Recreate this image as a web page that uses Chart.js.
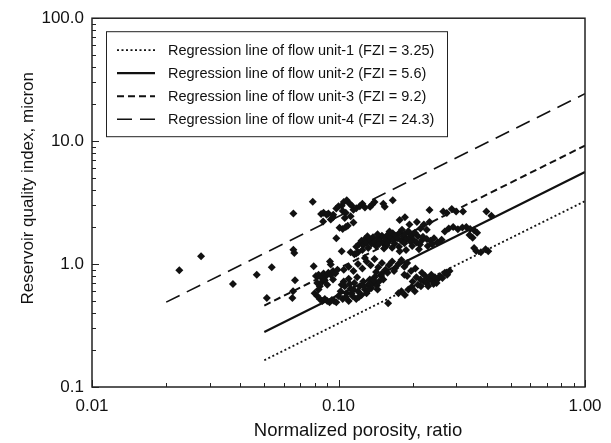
<!DOCTYPE html>
<html>
<head>
<meta charset="utf-8">
<script src="https://cdn.jsdelivr.net/npm/chart.js@4.4.1/dist/chart.umd.min.js"></script>
<style>
  html, body { margin: 0; padding: 0; background: #fff; }
  #wrap { width: 611px; height: 443px; position: relative; }
</style>
</head>
<body>
<div id="wrap"><canvas id="rqi"></canvas></div>
<script>
// axis ticks
const xMajor = [0.01, 0.1, 1];
const yMajor = [0.1, 1, 10, 100];
const xMinor = [0.02, 0.03, 0.04, 0.05, 0.06, 0.07, 0.08, 0.09, 0.2, 0.3, 0.4, 0.5, 0.6, 0.7, 0.8, 0.9];
const yMinor = [0.2, 0.3, 0.4, 0.5, 0.6, 0.7, 0.8, 0.9, 2, 3, 4, 5, 6, 7, 8, 9, 20, 30, 40, 50, 60, 70, 80, 90];

const xTitle = 'Normalized porosity, ratio';
const yTitle = 'Reservoir quality index, micron';

// regression lines (end points)
const unit1X = [0.05, 1.0], unit1Y = [0.165, 3.25];
const unit2X = [0.05, 1.0], unit2Y = [0.28, 5.6];
const unit3X = [0.05, 1.0], unit3Y = [0.46, 9.2];
const unit4X = [0.02, 1.0], unit4Y = [0.49, 24.3];

const lineLabels = [
    'Regression line of flow unit-1 (FZI = 3.25)',
    'Regression line of flow unit-2 (FZI = 5.6)',
    'Regression line of flow unit-3 (FZI = 9.2)',
    'Regression line of flow unit-4 (FZI = 24.3)'
];

// core samples [normalized porosity, RQI]
const coreSamples = [
    // scattered low porosity
    [0.0226,0.89],[0.0277,1.16],[0.0373,0.69],[0.0466,0.82],[0.0512,0.53],[0.0536,0.94],
    [0.0656,2.58],[0.0656,1.31],[0.0662,1.23],[0.0654,0.60],[0.0650,0.53],[0.0666,0.74],
    // upper group near unit-4
    [0.0786,3.21],[0.0850,2.55],[0.0870,2.62],[0.0895,2.52],[0.0910,2.58],[0.0952,2.52],[0.0866,2.22],
    [0.0980,2.83],[0.1000,2.95],[0.1030,2.98],[0.1050,3.20],[0.1080,3.30],[0.1110,3.10],[0.1130,3.00],
    [0.1150,2.76],[0.1180,2.85],[0.1220,2.95],[0.1040,2.70],[0.1070,2.62],[0.1060,2.37],[0.1150,2.18],
    [0.1010,1.97],[0.1040,1.93],[0.1070,2.00],[0.1090,2.05],[0.0980,1.62],[0.1030,1.27],[0.1344,2.93],
    [0.1370,3.05],[0.1400,3.20],[0.1520,3.10],[0.1540,2.93],[0.1660,3.30],[0.1280,2.88],[0.1250,3.10],
    [0.0950,2.40],[0.0930,2.30],[0.1120,2.45],[0.1770,2.28],[0.1860,2.40],[0.1940,2.10],[0.2080,2.20],
    // middle band
    [0.118,1.38],[0.121,1.45],[0.124,1.55],[0.126,1.42],[0.128,1.60],[0.130,1.50],[0.132,1.35],
    [0.134,1.58],[0.136,1.46],[0.138,1.65],[0.140,1.52],[0.142,1.40],[0.145,1.62],[0.147,1.55],
    [0.150,1.70],[0.152,1.48],[0.155,1.60],[0.158,1.72],[0.160,1.52],[0.163,1.65],[0.166,1.78],
    [0.168,1.58],[0.171,1.70],[0.174,1.62],[0.177,1.80],[0.180,1.55],[0.183,1.68],[0.186,1.75],
    [0.189,1.60],[0.192,1.85],[0.195,1.66],[0.198,1.72],[0.201,1.58],[0.204,1.80],[0.207,1.50],
    [0.210,1.68],[0.214,1.44],[0.218,1.56],[0.146,1.45],[0.157,1.42],[0.169,1.47],[0.185,1.48],
    [0.196,1.52],[0.176,1.38],[0.188,1.30],[0.177,1.27],[0.125,1.30],[0.120,1.25],[0.112,1.25],
    [0.116,1.20],[0.131,1.68],[0.144,1.75],[0.161,1.84],[0.153,1.34],[0.165,1.36],[0.199,1.40],
    [0.212,1.32],[0.181,1.90],
    // right side
    [0.234,2.75],[0.266,2.68],[0.275,2.60],[0.288,2.80],[0.300,2.68],[0.320,2.68],[0.398,2.68],
    [0.417,2.47],[0.215,1.95],[0.222,2.10],[0.228,1.90],[0.234,2.20],[0.270,1.84],[0.280,1.95],
    [0.292,2.00],[0.305,1.92],[0.318,1.98],[0.330,2.00],[0.342,1.93],[0.355,1.88],[0.365,1.80],
    [0.340,1.72],[0.350,1.64],[0.220,1.67],[0.228,1.60],[0.236,1.55],[0.244,1.62],[0.252,1.50],
    [0.262,1.58],[0.240,1.45],[0.230,1.40],[0.355,1.35],[0.362,1.28],[0.378,1.25],[0.405,1.27],
    [0.395,1.32],
    // lower group near unit-2
    [0.080,0.58],[0.082,0.55],[0.084,0.52],[0.086,0.50],[0.088,0.52],[0.090,0.50],[0.092,0.49],
    [0.094,0.51],[0.096,0.50],[0.098,0.49],[0.081,0.80],[0.083,0.82],[0.085,0.78],[0.087,0.84],
    [0.089,0.80],[0.091,0.85],[0.093,0.82],[0.095,0.88],[0.097,0.84],[0.099,0.90],[0.082,0.70],
    [0.084,0.66],[0.086,0.72],[0.083,0.62],[0.0923,1.05],[0.0930,0.99],[0.0793,0.96],[0.088,0.74],
    [0.090,0.68],[0.095,0.75],
    [0.100,0.55],[0.102,0.60],[0.104,0.52],[0.106,0.66],[0.108,0.58],[0.110,0.50],[0.112,0.63],
    [0.114,0.55],[0.116,0.70],[0.118,0.52],[0.120,0.60],[0.122,0.66],[0.124,0.56],[0.126,0.72],
    [0.128,0.62],[0.130,0.58],[0.132,0.68],[0.134,0.75],[0.136,0.64],[0.138,0.70],[0.140,0.78],
    [0.143,0.67],[0.146,0.72],[0.149,0.80],[0.152,0.75],[0.105,0.72],[0.110,0.76],[0.115,0.62],
    [0.103,0.68],[0.119,0.78],[0.107,0.54],[0.113,0.58],[0.121,0.54],[0.127,0.66],[0.133,0.62],
    [0.139,0.74],[0.144,0.62],[0.111,0.69],
    [0.105,0.90],[0.110,0.95],[0.115,0.88],[0.120,1.00],[0.125,0.92],[0.130,1.05],[0.135,0.98],
    [0.140,1.10],[0.145,0.94],[0.150,1.02],[0.155,0.90],[0.160,0.98],[0.165,1.05],[0.170,0.93],
    [0.175,1.00],[0.180,1.08],[0.185,0.95],[0.190,1.02],[0.158,0.85],[0.168,0.88],[0.128,1.12],
    [0.118,1.22],[0.150,0.84],[0.142,0.86],
    // lower band near unit-1
    [0.159,0.48],[0.175,0.58],[0.180,0.60],[0.186,0.56],[0.192,0.62],[0.198,0.65],[0.204,0.60],
    [0.210,0.68],[0.216,0.66],[0.222,0.72],[0.228,0.70],[0.234,0.76],[0.240,0.73],[0.246,0.78],
    [0.252,0.75],[0.258,0.80],[0.264,0.77],[0.270,0.85],[0.276,0.82],[0.282,0.88],[0.215,0.75],
    [0.225,0.80],[0.238,0.82],[0.250,0.70],[0.200,0.72],[0.190,0.80],[0.197,0.88],[0.205,0.92],
    [0.185,0.82],[0.218,0.85],[0.231,0.66],[0.243,0.69],[0.207,0.78]
];

const FONT = "'Liberation Sans', Arial, sans-serif";
const INK = '#111';

function toPoints(xs, ys) {
    return xs.map((x, i) => ({x: x, y: ys[i]}));
}

function regLine(label, xs, ys, dash, width) {
    return {
        label: label,
        data: toPoints(xs, ys),
        showLine: true,
        borderColor: INK,
        borderWidth: width,
        borderDash: dash,
        pointRadius: 0,
        fill: false,
        order: 1
    };
}

// frame + inward ticks
const frameTicks = {
    id: 'frameTicks',
    afterDatasetsDraw(chart) {
        const {ctx, chartArea: a, scales: {x, y}} = chart;
        ctx.save();
        ctx.strokeStyle = '#222';
        ctx.lineWidth = 1;
        ctx.beginPath();
        xMajor.concat(xMinor).forEach(v => {
            const px = Math.round(x.getPixelForValue(v)) + 0.5;
            const len = xMajor.includes(v) ? 7 : 4;
            ctx.moveTo(px, a.bottom);
            ctx.lineTo(px, a.bottom - len);
        });
        yMajor.concat(yMinor).forEach(v => {
            const py = Math.round(y.getPixelForValue(v)) + 0.5;
            const len = yMajor.includes(v) ? 7 : 4;
            ctx.moveTo(a.left, py);
            ctx.lineTo(a.left + len, py);
        });
        ctx.stroke();
        ctx.lineWidth = 1.5;
        ctx.strokeRect(a.left, a.top, a.right - a.left, a.bottom - a.top);
        ctx.restore();
    }
};

// axis titles (sit a little off-centre in the original)
const axisTitles = {
    id: 'axisTitles',
    afterDraw(chart) {
        const {ctx, chartArea: a} = chart;
        ctx.save();
        ctx.fillStyle = INK;
        ctx.textAlign = 'center';
        ctx.textBaseline = 'middle';
        ctx.font = '18.5px ' + FONT;
        ctx.fillText(xTitle, a.left + 266, 431);
        ctx.translate(28, a.top + 170);
        ctx.rotate(-Math.PI / 2);
        ctx.font = '17px ' + FONT;
        ctx.fillText(yTitle, 0, 0);
        ctx.restore();
    }
};

// boxed legend in upper left of the plot
const boxLegend = {
    id: 'boxLegend',
    afterDraw(chart) {
        const {ctx, chartArea: a} = chart;
        const left = a.left + 14, top = a.top + 13;
        const w = 341, h = 105;
        ctx.save();
        ctx.fillStyle = '#fff';
        ctx.fillRect(left, top, w, h);
        ctx.strokeStyle = '#222';
        ctx.lineWidth = 1;
        ctx.strokeRect(left + 0.5, top + 0.5, w, h);
        ctx.font = '14.5px ' + FONT;
        ctx.fillStyle = INK;
        ctx.textBaseline = 'middle';
        chart.data.datasets.filter(d => d.showLine).forEach((d, i) => {
            const yy = top + 19 + i * 23;
            ctx.beginPath();
            ctx.setLineDash(d.borderDash);
            ctx.lineWidth = d.borderWidth;
            ctx.strokeStyle = INK;
            ctx.moveTo(left + 11, yy);
            ctx.lineTo(left + 49, yy);
            ctx.stroke();
            ctx.setLineDash([]);
            ctx.fillText(d.label, left + 62, yy + 1);
        });
        ctx.restore();
    }
};

const ctx = document.getElementById('rqi').getContext('2d');

new Chart(ctx, {
    type: 'scatter',
    data: {
        datasets: [
            {
                label: 'Core samples',
                data: coreSamples.map(p => ({x: p[0], y: p[1]})),
                pointStyle: 'rectRot',
                pointRadius: 4,
                pointBorderWidth: 0,
                backgroundColor: INK,
                borderColor: INK,
                order: 0
            },
            regLine(lineLabels[0], unit1X, unit1Y, [2, 2.5], 1.8),
            regLine(lineLabels[1], unit2X, unit2Y, [], 2.2),
            regLine(lineLabels[2], unit3X, unit3Y, [7, 4], 2),
            regLine(lineLabels[3], unit4X, unit4Y, [15, 8], 1.6)
        ]
    },
    options: {
        responsive: true,
        maintainAspectRatio: false,
        animation: false,
        layout: { padding: { left: 0, top: 15, right: 26, bottom: 0 } },
        plugins: {
            legend: { display: false },
            tooltip: { enabled: false }
        },
        scales: {
            x: {
                type: 'logarithmic',
                min: 0.01,
                max: 1,
                afterBuildTicks: s => { s.ticks = xMajor.map(v => ({value: v})); },
                afterFit: s => { s.height = 56; },
                grid: { display: false, drawTicks: false },
                border: { display: false },
                ticks: {
                    color: INK,
                    padding: 9,
                    maxRotation: 0,
                    font: { family: FONT, size: 17 },
                    callback: v => Number(v).toFixed(2)
                }
            },
            y: {
                type: 'logarithmic',
                min: 0.1,
                max: 100,
                afterBuildTicks: s => { s.ticks = yMajor.map(v => ({value: v})); },
                afterFit: s => { s.width = 92; },
                grid: { display: false, drawTicks: false },
                border: { display: false },
                ticks: {
                    color: INK,
                    padding: 8,
                    font: { family: FONT, size: 17 },
                    callback: v => Number(v).toFixed(1)
                }
            }
        }
    },
    plugins: [frameTicks, axisTitles, boxLegend]
});
</script>
</body>
</html>
